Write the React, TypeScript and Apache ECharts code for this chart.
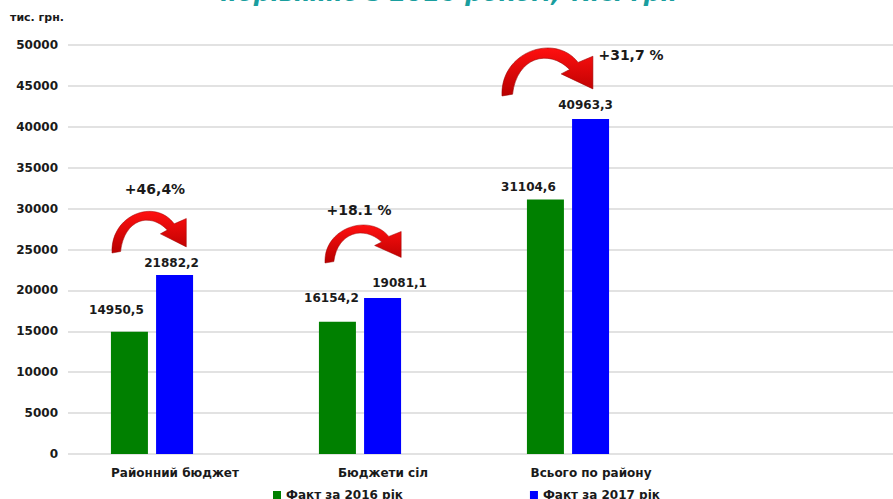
import React, { useEffect, useRef } from "react";
import * as echarts from "echarts";

const categories = ["Районний бюджет", "Бюджети сіл", "Всього по району", ""];
const fact2016 = [14950.5, 16154.2, 31104.6];
const fact2017 = [21882.2, 19081.1, 40963.3];
const growthLabels = ["+46,4%", "+18.1 %", "+31,7 %"];
const seriesNames = ["Факт за 2016 рік", "Факт за 2017 рік"];
const titleText = "порівняно з 2016 роком, тис. грн";
const unitText = "тис. грн.";

const greenLabelOffsets = [[-13, -11], [-6, -13], [-17, -2]];
const blueLabelOffsets = [[-3, -1], [17, -4], [-5, -3]];

const arrowBoxes = [
  { x: 112, y: 207, w: 76, h: 46 },
  { x: 325, y: 221, w: 78, h: 42 },
  { x: 502, y: 43, w: 93, h: 53 },
];
const growthPos = [
  { x: 155, y: 189 },
  { x: 359, y: 210 },
  { x: 631, y: 55 },
];

const ARROW_D =
  "M 0 60 C -2 10 50 -12 72 22 L 86 15 L 86 52 L 56 35 L 64 30 C 44 6 14 16 10 58 Z";

let registered = false;
function ensureShape() {
  if (registered) return;
  echarts.graphic.registerShape("curvedArrow", echarts.graphic.extendPath(ARROW_D, {}) as any);
  registered = true;
}

const FONT = "DejaVu Sans";

function fmt(v: number) {
  return v.toFixed(1).replace(".", ",");
}

export default function App() {
  const ref = useRef<HTMLDivElement>(null);
  useEffect(() => {
    if (!ref.current) return;
    ensureShape();
    const chart = echarts.init(ref.current, undefined, { renderer: "svg" });

    const arrows = arrowBoxes.map((b) => ({
      type: "curvedArrow",
      x: b.x,
      y: b.y,
      scaleX: b.w / 88,
      scaleY: b.h / 60,
      z: 10,
      style: {
        fill: new echarts.graphic.LinearGradient(0, 0, 0, 1, [
          { offset: 0, color: "#ff1010" },
          { offset: 1, color: "#b80000" },
        ]),
        stroke: "#990000",
        lineWidth: 0.6,
      },
    }));
    const growthTexts = growthPos.map((p, i) => ({
      type: "text",
      x: p.x,
      y: p.y,
      z: 10,
      style: {
        text: growthLabels[i],
        fontFamily: FONT,
        fontSize: 14,
        fontWeight: "bold",
        fill: "#1a1a1a",
        align: "center",
        verticalAlign: "middle",
      },
    }));

    chart.setOption({
      animation: false,
      backgroundColor: "#ffffff",
      textStyle: { fontFamily: FONT },
      grid: [
        { left: 68, right: 0, top: 45, bottom: 45 },
        { left: 48, right: 13, top: 45, bottom: 45 },
      ],
      xAxis: [
        { type: "category", gridIndex: 0, data: [], show: false },
        {
          type: "category",
          gridIndex: 1,
          data: categories,
          axisLine: { show: false },
          axisTick: { show: false },
          axisLabel: {
            fontFamily: FONT,
            fontSize: 12,
            fontWeight: "bold",
            color: "#1a1a1a",
            margin: 13,
            padding: [0, 0, 0, 46],
          },
        },
      ],
      yAxis: [
        {
          type: "value",
          gridIndex: 0,
          min: 0,
          max: 50000,
          interval: 5000,
          axisLine: { show: false },
          axisTick: { show: false },
          axisLabel: {
            fontFamily: FONT,
            fontSize: 12,
            fontWeight: "bold",
            color: "#1a1a1a",
            margin: 10,
            formatter: (v: number) => String(v),
          },
          splitLine: { lineStyle: { color: "#d9d9d9", width: 1.5 } },
        },
        {
          type: "value",
          gridIndex: 1,
          min: 0,
          max: 50000,
          interval: 5000,
          show: false,
          splitLine: { show: false },
        },
      ],
      legend: {
        data: seriesNames,
        left: 268,
        top: 484,
        itemWidth: 8,
        itemHeight: 8,
        itemGap: 127,
        icon: "rect",
        textStyle: { fontFamily: FONT, fontSize: 12, fontWeight: "bold", color: "#1a1a1a" },
      },
      series: [
        {
          name: seriesNames[0],
          type: "bar",
          xAxisIndex: 1,
          yAxisIndex: 1,
          barWidth: 37,
          barGap: "22%",
          itemStyle: { color: "#008000" },
          data: fact2016.map((v, i) => ({
            value: v,
            label: { offset: greenLabelOffsets[i] },
          })),
          label: {
            show: true,
            position: "top",
            fontFamily: FONT,
            fontSize: 12,
            fontWeight: "bold",
            color: "#1a1a1a",
            formatter: (p: any) => fmt(p.value),
          },
        },
        {
          name: seriesNames[1],
          type: "bar",
          xAxisIndex: 1,
          yAxisIndex: 1,
          barWidth: 37,
          itemStyle: { color: "#0000ff" },
          data: fact2017.map((v, i) => ({
            value: v,
            label: { offset: blueLabelOffsets[i] },
          })),
          label: {
            show: true,
            position: "top",
            fontFamily: FONT,
            fontSize: 12,
            fontWeight: "bold",
            color: "#1a1a1a",
            formatter: (p: any) => fmt(p.value),
          },
        },
      ],
      graphic: [
        {
          type: "text",
          x: 449,
          y: 5,
          style: {
            text: titleText,
            fontFamily: FONT,
            fontSize: 24,
            fontWeight: "bold",
            fontStyle: "italic",
            fill: "#1a9e9e",
            align: "center",
            verticalAlign: "bottom",
          },
        },
        {
          type: "text",
          x: 10,
          y: 17,
          style: {
            text: unitText,
            fontFamily: FONT,
            fontSize: 11,
            fontWeight: "bold",
            fill: "#1a1a1a",
            align: "left",
            verticalAlign: "middle",
          },
        },
        ...arrows,
        ...growthTexts,
      ],
    });
    return () => chart.dispose();
  }, []);
  return <div ref={ref} style={{ width: 893, height: 499, position: "absolute", left: 0, top: 0 }} />;
}
